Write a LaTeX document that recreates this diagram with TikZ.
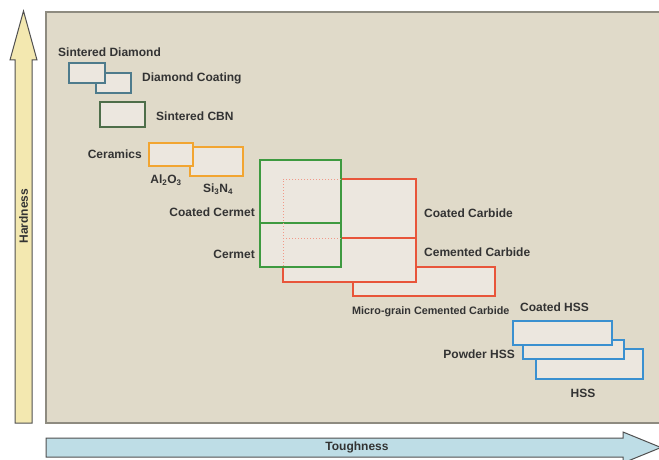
\documentclass[tikz,border=0pt]{standalone}
\usepackage{fontspec}
\setmainfont{Liberation Sans}
\definecolor{panel}{HTML}{E0DAC9}
\definecolor{panelborder}{HTML}{8E8B80}
\definecolor{boxfill}{HTML}{ECE7DF}
\definecolor{hardfill}{HTML}{F3E8B0}
\definecolor{toughfill}{HTML}{BEDDE6}
\definecolor{arrowline}{HTML}{505050}
\definecolor{txt}{HTML}{333333}
\definecolor{diam}{HTML}{4E7B8C}
\definecolor{cbn}{HTML}{4E6E4A}
\definecolor{cer}{HTML}{F2A531}
\definecolor{grn}{HTML}{3E9A40}
\definecolor{red}{HTML}{E8553A}
\definecolor{blu}{HTML}{3A90D0}
\begin{document}
\begin{tikzpicture}[x=1pt,y=-1pt,
  lbl/.style={font=\fontsize{12}{14}\selectfont\bfseries, text=txt, inner sep=0pt},
  small/.style={font=\fontsize{10.8}{12}\selectfont\bfseries, text=txt, inner sep=0pt},
  mat/.style={draw=#1, fill=boxfill, line width=2pt},
  axisarrow/.style={draw=arrowline, line width=1pt, fill=#1}]
\useasboundingbox (0,0) rectangle (659,460);
\begin{scope}
\clip (0,0) rectangle (659,460);
% panel
\draw[fill=panel, draw=panelborder, line width=1.5pt] (46,12) rectangle (668,423);
% hardness arrow
\draw[axisarrow=hardfill] (15,423) -- (15,60) -- (10,60) -- (23.5,11) -- (37,60) -- (32,60) -- (32,423) -- cycle;
\node[lbl, rotate=90] (hard) at (23.5,216) {Hardness};
% toughness arrow
\draw[axisarrow=toughfill] (46,438) -- (623,438) -- (623,432) -- (661,447.5) -- (623,463) -- (623,457) -- (46,457) -- cycle;
\node[lbl] (tough) at (357,447.5) {Toughness};
% diamond
\draw[mat=diam] (96,73) rectangle (131,93);
\draw[mat=diam] (69,63) rectangle (105,83);
\node[lbl, anchor=west] (sd) at (58,52) {Sintered Diamond};
\node[lbl, anchor=west] (dc) at (142,78) {Diamond Coating};
% CBN
\draw[mat=cbn] (100,102) rectangle (145,127);
\node[lbl, anchor=west] (cbnl) at (156,116) {Sintered CBN};
% ceramics
\draw[mat=cer] (190,147) rectangle (243,176);
\draw[mat=cer] (149,143) rectangle (193,166);
\node[lbl, anchor=east] (ceram) at (142,154) {Ceramics};
\node[lbl] (al) at (166,180) {Al\textsubscript{2}O\textsubscript{3}};
\node[lbl] (si) at (218,189) {Si\textsubscript{3}N\textsubscript{4}};
% carbides
\draw[mat=red] (353,267) rectangle (495,296);
\draw[mat=red] (283,238) rectangle (416,282);
\draw[mat=red] (283,179) rectangle (416,238);
% cermets
\draw[mat=grn] (260,223) rectangle (341,267);
\draw[mat=grn] (260,160) rectangle (341,223);
\draw[red!60, dotted, line width=1pt] (341,179) -- (283,179) -- (283,267);
\draw[red!60, dotted, line width=1pt] (283,238) -- (341,238);
\node[lbl, anchor=east] (ccer) at (255,212) {Coated Cermet};
\node[lbl, anchor=east] (cer) at (255,254) {Cermet};
\node[lbl, anchor=west] (ccarb) at (424,213) {Coated Carbide};
\node[lbl, anchor=west] (cemc) at (424,252) {Cemented Carbide};
\node[small, anchor=west] (micro) at (352,312) {Micro-grain Cemented Carbide};
% HSS
\draw[mat=blu] (536,349) rectangle (643,379);
\draw[mat=blu] (523,340) rectangle (624,359);
\draw[mat=blu] (513,321) rectangle (612,345);
\node[lbl, anchor=west] (chss) at (520,307) {Coated HSS};
\node[lbl, anchor=east] (phss) at (515,354) {Powder HSS};
\node[lbl] (hss) at (583,393) {HSS};
\end{scope}
\end{tikzpicture}
\end{document}
